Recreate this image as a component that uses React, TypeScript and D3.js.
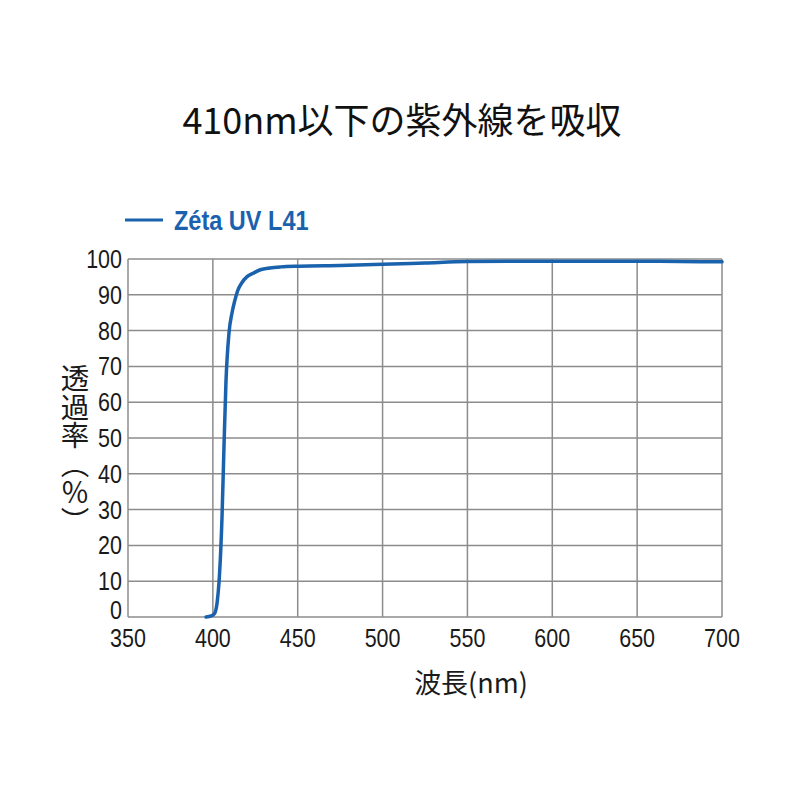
import React from "react";
import * as d3 from "d3";

const wavelengths = [396, 399, 401, 402.5, 403.6, 405.4, 406.5, 407.7, 409.5, 411.3, 413, 414.5, 417, 420, 423.7, 428, 433.6, 440, 451, 475, 500, 525, 550, 575, 600, 625, 650, 675, 700];
const transmittance = [0, 0.3, 1, 4, 9.5, 28, 46.6, 65.4, 79.3, 85, 88.5, 91, 93.3, 95, 96, 97, 97.5, 97.8, 98, 98.2, 98.5, 98.9, 99.3, 99.4, 99.4, 99.4, 99.4, 99.3, 99.2];
const xTicks = [350, 400, 450, 500, 550, 600, 650, 700];
const yTicks = [0, 10, 20, 30, 40, 50, 60, 70, 80, 90, 100];
const seriesName = "Zéta UV L41";
const title = "410nm以下の紫外線を吸収";
const xLabel = "波長(nm)";
const yLabel = "透過率（％）";

export default function App() {
  const x = d3.scaleLinear().domain([350, 700]).range([128, 722]);
  const y = d3.scaleLinear().domain([0, 100]).range([617, 259]);
  const pts = wavelengths.map((w, i) => [w, transmittance[i]] as [number, number]);
  const line = d3
    .line<[number, number]>()
    .x((d) => x(d[0]))
    .y((d) => y(d[1]))
    .curve(d3.curveMonotoneX);
  const sans = "'Liberation Sans', Arial, sans-serif";
  const cjk = "'Noto Sans CJK JP', sans-serif";
  const grid = "#8c8c8c";
  const blue = "#1a62ad";
  const sx = 0.86;
  return (
    <svg width={800} height={800} style={{ position: "absolute", left: 0, top: 0, background: "#fff" }}>
      <rect width={800} height={800} fill="#fff" />
      <text x={402} y={134} textAnchor="middle" fontFamily={cjk} fontSize={36} fill="#111">
        {title}
      </text>
      {/* legend */}
      <line x1={125} x2={163} y1={220} y2={220} stroke={blue} strokeWidth={3} />
      <g transform={`translate(174,230) scale(0.84,1)`}>
        <text x={0} y={0} fontFamily={sans} fontWeight="bold" fontSize={28} fill={blue}>
          {seriesName}
        </text>
      </g>
      {/* grid */}
      {yTicks.map((t) => (
        <line key={"gy" + t} x1={x(350)} x2={x(700)} y1={y(t)} y2={y(t)} stroke={grid} strokeWidth={1.5} />
      ))}
      {xTicks.map((t) => (
        <line key={"gx" + t} x1={x(t)} x2={x(t)} y1={y(0)} y2={y(100)} stroke={grid} strokeWidth={1.5} />
      ))}
      {/* tick labels */}
      {yTicks.map((t) => (
        <g key={"ly" + t} transform={`translate(122,${y(t) + (t === 0 ? 2 : 9)}) scale(${sx},1)`}>
          <text x={0} y={0} textAnchor="end" fontFamily={sans} fontSize={25} fill="#1a1a1a">
            {t}
          </text>
        </g>
      ))}
      {xTicks.map((t) => (
        <g key={"lx" + t} transform={`translate(${x(t)},647) scale(${sx},1)`}>
          <text x={0} y={0} textAnchor="middle" fontFamily={sans} fontSize={25} fill="#1a1a1a">
            {t}
          </text>
        </g>
      ))}
      {/* curve */}
      <path d={line(pts) || ""} fill="none" stroke={blue} strokeWidth={3.5} strokeLinecap="round" />
      {/* axis labels */}
      <text x={471} y={693} textAnchor="middle" fontFamily={cjk} fontSize={27} fill="#1a1a1a">
        {xLabel}
      </text>
      <text
        x={75}
        y={364}
        fontFamily={cjk}
        fontSize={28.5}
        fill="#1a1a1a"
        style={{ writingMode: "vertical-rl" } as React.CSSProperties}
      >
        {yLabel}
      </text>
    </svg>
  );
}
